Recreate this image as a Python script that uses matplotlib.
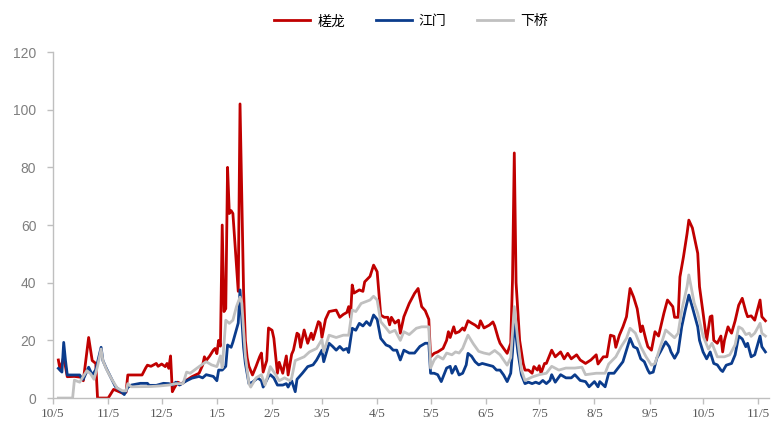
import matplotlib.pyplot as plt
import pandas as pd

start = pd.Timestamp("2022-10-05")

# days after 10/5 and the readings for each yard
red_day = [3, 4, 6, 8, 12, 16, 17, 20, 22, 24, 25, 31, 34, 36, 39, 41, 42, 50, 52, 53, 55, 58, 59, 61,
           63, 64, 65, 66, 67, 68, 70, 72, 75, 78, 82, 84, 85, 86, 88, 90, 91, 92, 93, 94, 95, 96, 97,
           98, 99, 100, 101, 104, 105, 107, 108, 109, 110, 112, 114, 116, 117, 118, 120, 121, 123, 124,
           126, 127, 129, 131, 132, 134, 135, 137, 138, 139, 141, 143, 145, 146, 149, 150, 151, 153, 155,
           159, 161, 163, 165, 166, 167, 168, 169, 172, 174, 175, 178, 180, 182, 184, 186, 188, 189, 190,
           192, 194, 195, 197, 200, 203, 205, 206, 207, 209, 211, 212, 214, 216, 219, 221, 222, 223, 225,
           226, 228, 230, 231, 233, 235, 237, 239, 240, 242, 245, 247, 248, 250, 251, 253, 255, 257, 258,
           259, 260, 262, 264, 265, 267, 269, 270, 272, 273, 274, 276, 277, 280, 282, 285, 287, 289, 291,
           294, 296, 299, 302, 305, 306, 309, 311, 313, 315, 316, 318, 320, 322, 324, 326, 328, 330, 331,
           333, 334, 336, 338, 340, 343, 345, 348, 349, 351, 352, 354, 356, 357, 359, 362, 363, 365, 367,
           369, 370, 371, 373, 375, 376, 377, 379, 380, 381, 383, 385, 387, 389, 390, 392, 394, 397, 398, 400]
red_val = [13.2, 9.7, 14.3, 7.4, 7.5, 7.2, 6, 21, 13, 12, 0, 0, 3, 2.5, 1.7, 2, 8, 8, 10.4, 11.4, 11, 12, 11,
           11.8, 10.9, 12, 10.3, 14.6, 2.2, 3.4, 5.5, 4.9, 6.2, 7.4, 8.6, 11.4, 14.3, 13, 14.6, 16.6, 17.2,
           15.4, 20, 18, 60, 30, 31, 80, 64, 65, 64, 37, 102, 37, 20, 14, 11, 8, 11, 14.3, 15.6, 9, 13, 24.3,
           23.5, 20.7, 8.6, 12.4, 8.6, 14.6, 8, 15.2, 16.6, 22.5, 22, 17.6, 23.6, 19, 22.5, 20.3, 26.5, 26,
           21, 27.3, 30, 30.5, 28, 29, 29.7, 31.7, 28, 39.2, 36.4, 37.5, 37, 40.3, 42.2, 46.1, 43.8, 28.8,
           28, 28, 25.4, 28, 26, 27, 22.5, 28.2, 32.8, 36.3, 38, 34.7, 31.7, 30.3, 27.3, 14.3, 15.5, 16,
           17.2, 20, 23, 21, 24.7, 22.5, 23, 24.3, 23.5, 26.8, 26, 25.3, 24.3, 26.8, 24.3, 25.3, 26.4, 25,
           20.7, 19, 17.2, 15.5, 19, 41, 85, 40, 20, 12, 9.7, 9.7, 8.6, 10.9, 9.7, 11.2, 8.6, 12, 12, 16.6,
           14.3, 16, 13.6, 15.5, 13.6, 15, 13.2, 12, 13.2, 15, 11.8, 14.3, 14.3, 21.8, 21.4, 17.6, 21.8,
           24.7, 28.2, 38, 35, 31, 23, 25, 20, 17.8, 16.6, 23, 21.5, 29.4, 34, 31.7, 28, 28, 42, 49, 57,
           61.7, 59, 50.2, 38.6, 29.5, 20, 28.2, 28.5, 20, 19, 21.5, 16, 20, 24.7, 23.5, 22.5, 26.8, 32.2,
           34.6, 30, 28.2, 28.5, 27, 34, 28.2, 26.8]

blue_day = [3, 5, 6, 7, 8, 15, 16, 17, 20, 22, 24, 27, 28, 30, 33, 35, 38, 40, 42, 44, 49, 53, 54, 58, 62,
            65, 67, 69, 71, 75, 78, 82, 84, 86, 90, 92, 93, 95, 97, 98, 100, 101, 104, 105, 107, 108,
            110, 112, 115, 117, 118, 121, 122, 124, 126, 129, 131, 132, 133, 134, 136, 137, 140, 143,
            146, 148, 151, 152, 155, 157, 159, 161, 163, 165, 166, 168, 170, 172, 174, 176, 178, 180,
            182, 184, 187, 189, 191, 193, 195, 197, 200, 203, 206, 209, 211, 212, 214, 216, 218, 221,
            223, 224, 226, 228, 230, 232, 233, 235, 237, 239, 241, 244, 247, 249, 251, 253, 255, 257,
            258, 259, 261, 263, 265, 267, 269, 271, 273, 275, 277, 279, 280, 282, 285, 288, 291, 293,
            296, 299, 301, 304, 306, 307, 310, 312, 315, 318, 320, 322, 324, 326, 328, 330, 332, 334,
            335, 337, 339, 341, 344, 346, 347, 349, 351, 353, 355, 357, 359, 362, 363, 365, 367, 369,
            371, 373, 375, 376, 378, 381, 383, 385, 387, 389, 390, 392, 394, 397, 398, 400]
blue_val = [10.3, 9, 19.3, 13, 8, 8, 6.9, 6.5, 10.7, 8, 9.8, 17.6, 13, 10.2, 6.5, 4, 2.4, 1.2, 3.7, 4.5,
            5.1, 5.1, 4.4, 4.4, 5.1, 5, 4.5, 5.5, 4.5, 6, 6.9, 7.5, 7, 8.1, 7.5, 6, 9.7, 9.7, 11, 18.4,
            17.6, 19.4, 26, 37.5, 17.6, 12, 5, 5.5, 7, 6, 3.8, 7.5, 8.1, 7, 4.5, 4.5, 5, 3.8, 5, 6, 2.2,
            6.5, 8.6, 10.9, 11.5, 13.2, 16.6, 12.6, 19, 17.9, 16.6, 17.9, 16.6, 17.2, 15.8, 24.2, 23.5,
            25.9, 25, 26.5, 25.2, 28.8, 27.3, 20.7, 18.4, 17.9, 16.6, 16.6, 13.2, 16.6, 15.6, 15.6, 17.9,
            19, 19, 8.6, 8.6, 8.1, 5.7, 10.4, 11, 8.6, 11, 8, 8.6, 11.5, 15.5, 14.5, 12.6, 11.5, 12, 11.5,
            11, 9.7, 9.7, 8, 5.7, 8.6, 16, 27, 16, 8.1, 5, 5.5, 5, 5.5, 5, 6.1, 5, 6.1, 8.1, 5.5, 8.1, 7,
            7, 8.1, 6.1, 5.7, 3.9, 5.7, 3.9, 5.7, 3.9, 8.6, 8.6, 11, 12.6, 16.6, 20.7, 17.8, 17.2, 13.6,
            12.6, 9.7, 8.6, 9, 13.8, 16, 19.5, 17.8, 16, 13.8, 16, 24.7, 30.5, 35.7, 31.5, 24.7, 20, 16,
            13.6, 16, 12, 11.5, 9.7, 9.2, 11.4, 12, 15, 21.5, 20.5, 17.8, 19, 14.3, 15, 21.5, 17.8, 16]

gray_day = [3, 11, 12, 15, 17, 19, 21, 23, 25, 27, 28, 30, 33, 36, 39, 41, 42, 44, 55, 60, 65, 69, 73, 75,
            77, 82, 86, 89, 92, 94, 95, 97, 99, 101, 103, 105, 106, 108, 110, 111, 114, 117, 119, 121,
            122, 125, 127, 130, 133, 134, 136, 141, 144, 148, 151, 152, 155, 159, 163, 166, 168, 170,
            173, 178, 180, 182, 184, 187, 189, 192, 195, 197, 200, 204, 207, 211, 212, 214, 216, 219,
            221, 224, 226, 228, 230, 233, 236, 239, 242, 245, 248, 251, 253, 255, 257, 259, 261, 263,
            265, 269, 273, 277, 280, 284, 288, 293, 297, 299, 305, 310, 312, 316, 319, 322, 324, 327,
            330, 333, 336, 338, 341, 344, 346, 349, 351, 353, 356, 357, 360, 362, 365, 368, 370, 373,
            377, 380, 383, 385, 387, 389, 391, 392, 394, 397, 398, 400]
gray_val = [0, 0, 6.2, 5.5, 7.5, 9.5, 8.5, 6.5, 11, 17, 13, 10, 6.5, 3.5, 2.5, 2.5, 5, 3.9, 4, 4.2, 4.5, 5,
            5, 9, 8.6, 10.9, 12.6, 11.5, 10.9, 14.6, 10.5, 27, 25.9, 27, 31.7, 35, 33, 14.6, 5, 3.8, 7,
            8.1, 4.5, 8.6, 10.9, 8.1, 6, 7, 6, 7, 13, 14.3, 16, 17.2, 20.3, 16, 21.8, 21, 21.8, 21.8,
            30.5, 30, 32.8, 34, 35.3, 34, 26.5, 24.3, 22.7, 23.5, 20, 23, 22, 24.2, 24.7, 24.7, 10.4,
            13.2, 14.6, 13.5, 15.6, 15, 16, 15.6, 17.2, 21.8, 18.8, 16.2, 15.6, 15.2, 16.5, 15, 13.2,
            11.4, 14, 31.7, 20, 9.7, 6.1, 7.3, 8.1, 8.6, 11, 9.7, 10.4, 10.4, 10.7, 8.1, 8.6, 8.6, 11.8,
            14.3, 17.8, 20.7, 24.2, 22.5, 17.8, 14.3, 11.4, 12, 17.8, 23.6, 22.5, 20.9, 22.5, 30.5, 38.6,
            42.7, 33, 29.4, 21.5, 17, 19, 14.3, 14.3, 15, 18.5, 24.7, 24, 22, 22.5, 21.4, 22.5, 25.9,
            22.5, 21.5]

series = [("槎龙", red_day, red_val, "#C00000"),
          ("江门", blue_day, blue_val, "#0B3C8C"),
          ("下桥", gray_day, gray_val, "#C0C0C0")]

tick_dates = pd.date_range("2022-10-01", "2023-11-05", freq="MS") + pd.Timedelta(days=4)

fig = plt.figure(figsize=(7.74, 4.23), dpi=100)
ax = fig.add_axes([0.0685, 0.059, 0.925, 0.818])

for name, days, vals, col in series:
    x = start + pd.to_timedelta(days, unit="D")
    ax.plot(x, vals, color=col, lw=2.0, label=name, solid_joinstyle="round")

ax.set_ylim(0, 120)
ax.set_yticks(range(0, 121, 20))
ax.set_xlim(start, start + pd.Timedelta(days=402))
ax.set_xticks(tick_dates)
ax.set_xticklabels([f"{d.month}/{d.day}" for d in tick_dates],
                   fontfamily="Liberation Serif", fontsize=9.5, color="#595959")
for t in ax.get_yticklabels():
    t.set_fontfamily("Liberation Sans")
    t.set_fontsize(10)
    t.set_color("#7F7F7F")

for s in ["top", "right"]:
    ax.spines[s].set_visible(False)
for s in ["left", "bottom"]:
    ax.spines[s].set_color("#BFBFBF")
    ax.spines[s].set_linewidth(1.0)
ax.tick_params(axis="both", color="#BFBFBF", length=4, width=1)
ax.tick_params(axis="y", pad=8)

ax.legend(loc="upper center", bbox_to_anchor=(0.5, 1.145), ncol=3, frameon=False,
          prop={"family": ["Noto Sans CJK SC", "DejaVu Sans"], "size": 10},
          handlelength=2.6, columnspacing=2.2, handletextpad=0.5)

fig.savefig("out.png", dpi=100)
